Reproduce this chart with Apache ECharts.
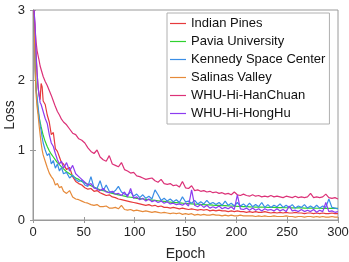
<!DOCTYPE html>
<html><head><meta charset="utf-8">
<script src="https://cdn.jsdelivr.net/npm/echarts@6/dist/echarts.min.js"></script>
<style>html,body{margin:0;padding:0;background:#fff}#c{width:349px;height:262px}</style>
</head><body><div id="c"></div>
<script>
const epochs = [1,2,3,4,5,6,7,8,9,10,
12,14,16,18,20,22,24,26,28,30,
33,36,39,42,45,48,51,54,57,60,
63,66,69,72,75,78,81,84,87,90,
93,96,99,102,105,108,111,114,117,120,
123,126,129,132,135,138,141,144,147,150,
153,156,159,162,165,168,171,174,177,180,
183,186,189,192,195,198,201,204,207,210,
213,216,219,222,225,228,231,234,237,240,
243,246,249,252,255,258,261,264,267,270,
273,276,279,282,285,288,291,294,297,300];

const seriesNames = ["Indian Pines","Pavia University","Kennedy Space Center","Salinas Valley","WHU-Hi-HanChuan","WHU-Hi-HongHu"];
const xTicks = [0,50,100,150,200,250,300];
const yTicks = [0,1,2,3];

const indianPines = [3.0,2.65,2.35,2.1,1.9,1.78,1.72,1.95,1.9,1.7,
1.65,1.50,1.40,1.22,1.25,1.02,0.98,0.90,0.82,0.80,
0.72,0.75,0.62,0.55,0.52,0.50,0.46,0.44,0.45,0.41,
0.42,0.39,0.37,0.35,0.36,0.33,0.32,0.30,0.29,0.28,
0.27,0.26,0.25,0.24,0.23,0.22,0.21,0.22,0.20,0.21,
0.19,0.20,0.18,0.18,0.17,0.18,0.17,0.16,0.17,0.16,
0.15,0.16,0.15,0.14,0.15,0.14,0.15,0.13,0.14,0.13,
0.14,0.13,0.13,0.12,0.13,0.12,0.13,0.12,0.12,0.11,
0.12,0.11,0.12,0.11,0.11,0.12,0.11,0.10,0.11,0.10,
0.11,0.10,0.11,0.10,0.10,0.11,0.10,0.10,0.09,0.10,
0.10,0.09,0.10,0.09,0.10,0.09,0.09,0.10,0.09,0.09];

const pavia = [3.0,2.3,1.9,1.7,1.55,1.47,1.40,1.33,1.27,1.21,
1.12,1.05,0.99,0.94,0.90,0.86,0.82,0.79,0.76,0.73,
0.69,0.66,0.63,0.60,0.58,0.55,0.53,0.51,0.49,0.47,
0.45,0.43,0.42,0.41,0.39,0.38,0.37,0.36,0.35,0.34,
0.33,0.325,0.32,0.31,0.305,0.30,0.295,0.29,0.285,0.28,
0.275,0.27,0.265,0.26,0.255,0.25,0.247,0.244,0.24,0.237,
0.234,0.231,0.228,0.225,0.222,0.22,0.217,0.215,0.212,0.21,
0.208,0.206,0.204,0.202,0.20,0.198,0.196,0.194,0.192,0.19,
0.188,0.186,0.185,0.184,0.183,0.182,0.181,0.18,0.179,0.178,
0.177,0.176,0.175,0.175,0.174,0.173,0.172,0.172,0.171,0.17,
0.17,0.169,0.168,0.168,0.167,0.167,0.166,0.166,0.165,0.165];

const kennedy = [3.0,2.15,1.85,1.75,1.62,1.48,1.35,1.28,1.18,1.10,
1.0,0.92,0.95,0.80,0.85,0.74,0.80,0.70,0.75,0.66,
0.68,0.60,0.64,0.58,0.55,0.57,0.50,0.48,0.62,0.46,
0.45,0.56,0.42,0.50,0.41,0.39,0.42,0.48,0.40,0.37,
0.36,0.40,0.34,0.37,0.32,0.36,0.31,0.34,0.30,0.43,
0.36,0.28,0.31,0.27,0.30,0.26,0.29,0.25,0.33,0.26,
0.27,0.24,0.28,0.23,0.26,0.23,0.28,0.23,0.25,0.22,
0.25,0.21,0.27,0.21,0.24,0.20,0.25,0.20,0.23,0.19,
0.24,0.19,0.22,0.19,0.25,0.18,0.22,0.18,0.21,0.19,
0.23,0.18,0.21,0.18,0.22,0.17,0.20,0.18,0.22,0.17,
0.20,0.17,0.21,0.17,0.20,0.18,0.30,0.18,0.17,0.16];

const salinas = [3.0,2.2,1.8,1.62,1.5,1.35,1.22,1.10,1.0,0.93,
0.84,0.75,0.67,0.62,0.58,0.50,0.52,0.46,0.48,0.41,
0.38,0.42,0.33,0.30,0.29,0.27,0.25,0.24,0.22,0.21,
0.22,0.19,0.19,0.20,0.17,0.17,0.18,0.16,0.21,0.15,
0.14,0.15,0.13,0.14,0.13,0.12,0.13,0.12,0.11,0.12,
0.11,0.10,0.11,0.10,0.09,0.10,0.09,0.10,0.08,0.09,
0.08,0.09,0.07,0.08,0.07,0.08,0.07,0.07,0.08,0.07,
0.07,0.06,0.07,0.06,0.07,0.06,0.06,0.07,0.06,0.06,
0.06,0.06,0.05,0.06,0.05,0.06,0.05,0.05,0.06,0.05,
0.05,0.05,0.06,0.05,0.05,0.04,0.05,0.05,0.04,0.05,
0.05,0.04,0.05,0.04,0.05,0.04,0.04,0.05,0.04,0.04];

const hanChuan = [3.0,2.75,2.55,2.42,2.35,2.28,2.2,2.15,2.1,2.05,
1.98,1.92,1.85,1.78,1.70,1.62,1.55,1.50,1.44,1.40,
1.36,1.30,1.24,1.22,1.16,1.14,1.10,1.03,0.98,0.95,
1.00,0.90,0.86,0.84,0.92,0.80,0.78,0.76,0.82,0.72,
0.70,0.67,0.68,0.63,0.62,0.60,0.58,0.59,0.60,0.56,
0.54,0.58,0.52,0.51,0.52,0.49,0.50,0.47,0.55,0.46,
0.45,0.49,0.42,0.43,0.41,0.42,0.40,0.41,0.39,0.40,
0.38,0.39,0.37,0.38,0.36,0.40,0.36,0.35,0.37,0.35,
0.34,0.36,0.34,0.35,0.33,0.34,0.33,0.35,0.33,0.34,
0.33,0.32,0.34,0.33,0.32,0.34,0.32,0.33,0.32,0.33,
0.38,0.32,0.33,0.32,0.33,0.37,0.32,0.31,0.32,0.30];

const hongHu = [3.0,2.8,2.4,2.1,1.9,1.78,1.68,1.65,1.6,1.55,
1.45,1.38,1.22,1.10,1.05,0.95,0.86,0.80,0.84,0.74,
0.82,0.70,0.78,0.66,0.62,0.58,0.54,0.50,0.52,0.46,
0.44,0.42,0.45,0.40,0.39,0.41,0.37,0.38,0.35,0.40,
0.33,0.45,0.31,0.33,0.29,0.31,0.27,0.30,0.26,0.28,
0.25,0.27,0.24,0.26,0.23,0.24,0.22,0.23,0.21,0.24,
0.20,0.43,0.21,0.19,0.22,0.18,0.21,0.17,0.19,0.17,
0.20,0.16,0.18,0.16,0.19,0.15,0.36,0.16,0.15,0.17,
0.14,0.17,0.14,0.16,0.13,0.16,0.14,0.15,0.13,0.16,
0.13,0.15,0.12,0.20,0.13,0.14,0.12,0.15,0.12,0.14,
0.12,0.15,0.11,0.14,0.12,0.25,0.12,0.13,0.11,0.12];

const allValues = [indianPines, pavia, kennedy, salinas, hanChuan, hongHu];
const colors = ["#e63a3c","#2fd12f","#3a8ee6","#e68a3a","#dc3278","#8c3cf0"];

const font = "Liberation Sans";
const axisCol = "#9a9a9a";
const txtCol = "#262626";

const chart = echarts.init(document.getElementById('c'), null, {renderer:'canvas'});
chart.setOption({
  animation:false,
  backgroundColor:'#fff',
  textStyle:{fontFamily:font},
  grid:{left:33,right:11,top:10,bottom:42,containLabel:false,outerBoundsMode:'none',show:true,borderColor:axisCol,borderWidth:1},
  legend:{
    orient:'vertical', left:167, top:13,
    data:seriesNames,
    icon:'rect', itemWidth:16, itemHeight:1.2, itemGap:5,
    padding:[4,4,4,3],
    backgroundColor:'#fff', borderColor:'#b0b0b0', borderWidth:1,
    textStyle:{fontFamily:font,fontSize:13,color:'#111',lineHeight:13}
  },
  xAxis:[{
    type:'value', min:xTicks[0], max:xTicks[xTicks.length-1], interval:50,
    name:'Epoch', nameLocation:'middle', nameGap:27, nameMoveOverlap:false,
    nameTextStyle:{fontFamily:font,fontSize:14,color:txtCol},
    axisLine:{show:true,lineStyle:{color:axisCol}},
    axisTick:{show:true,inside:true,length:3,lineStyle:{color:axisCol}},
    axisLabel:{fontFamily:font,fontSize:13,color:txtCol,margin:6},
    splitLine:{show:false}
  },{
    type:'value', position:'top', min:xTicks[0], max:xTicks[xTicks.length-1], interval:50,
    axisLine:{show:true,lineStyle:{color:axisCol}},
    axisTick:{show:true,inside:true,length:3,lineStyle:{color:axisCol}},
    axisLabel:{show:false}, splitLine:{show:false}
  }],
  yAxis:[{
    type:'value', min:yTicks[0], max:yTicks[yTicks.length-1], interval:1,
    name:'Loss', nameLocation:'middle', nameGap:16, nameMoveOverlap:false,
    nameTextStyle:{fontFamily:font,fontSize:14,color:txtCol},
    axisLine:{show:true,lineStyle:{color:axisCol}},
    axisTick:{show:true,inside:true,length:3,lineStyle:{color:axisCol}},
    axisLabel:{fontFamily:font,fontSize:13,color:txtCol,margin:8},
    splitLine:{show:false}
  },{
    type:'value', position:'right', min:yTicks[0], max:yTicks[yTicks.length-1], interval:1,
    axisLine:{show:true,lineStyle:{color:axisCol}},
    axisTick:{show:true,inside:true,length:3,lineStyle:{color:axisCol}},
    axisLabel:{show:false}, splitLine:{show:false}
  }],
  series: seriesNames.map((n,k)=>({
    name:n, type:'line', xAxisIndex:0, yAxisIndex:0,
    showSymbol:false, symbol:'none',
    lineStyle:{width:1.2,color:colors[k]}, itemStyle:{color:colors[k]},
    data: epochs.map((e,i)=>[e, allValues[k][i]])
  }))
});
</script></body></html>
